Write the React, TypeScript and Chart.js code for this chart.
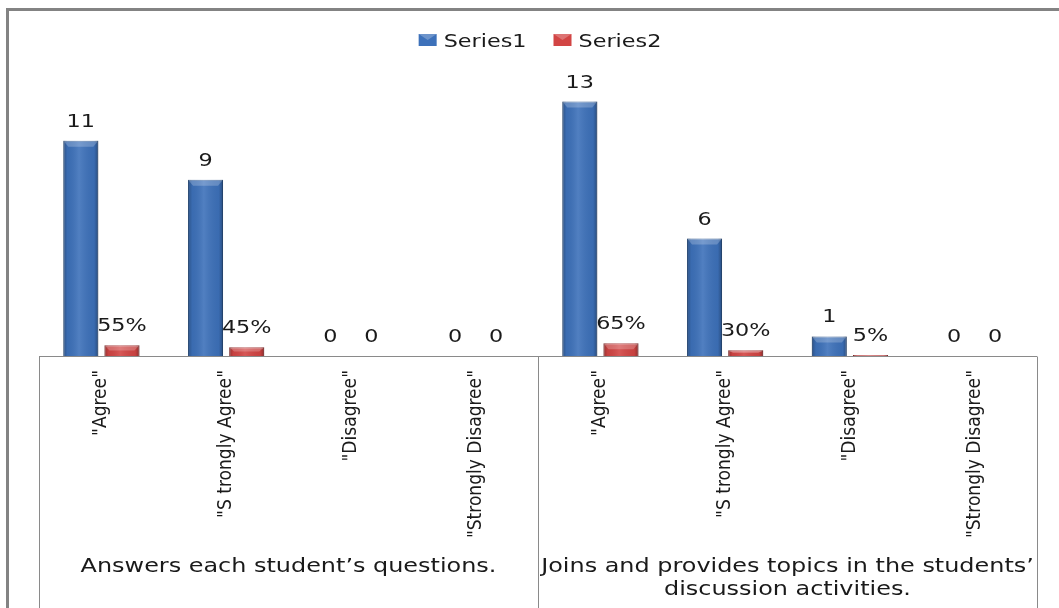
import React, { useEffect, useRef } from "react";
import { Chart, registerables } from "chart.js";

Chart.register(...registerables);

const categories = [
  '"Agree"',
  '"S trongly Agree"',
  '"Disagree"',
  '"Strongly Disagree"',
  '"Agree"',
  '"S trongly Agree"',
  '"Disagree"',
  '"Strongly Disagree"',
];
const groupLabels: string[][] = [
  ["Answers each student’s questions."],
  ["Joins and provides topics in the students’", "discussion activities."],
];
const groupSizes = [4, 4];
const seriesNames = ["Series1", "Series2"];
const series1 = [11, 9, 0, 0, 13, 6, 1, 0];
const series2 = [0.55, 0.45, 0, 0, 0.65, 0.3, 0.05, 0];

const W = 1059;
const H = 608;
const SX = 1.24;
const TEXT = "#1a1a1a";
const BLUE = "#3d71ba";
const RED = "#d24544";
const HFONT = '18px "DejaVu Sans"';
const GFONT = '19.3px "DejaVu Sans"';

function hText(ctx: CanvasRenderingContext2D, text: string, x: number, y: number, align: CanvasTextAlign) {
  ctx.save();
  ctx.translate(x, y);
  ctx.scale(SX, 1);
  ctx.textAlign = align;
  ctx.textBaseline = "alphabetic";
  ctx.fillText(text, 0, 0);
  ctx.restore();
}

function fmt(v: number, ds: number) {
  if (v === 0) return "0";
  return ds === 0 ? String(v) : Math.round(v * 100) + "%";
}

const decorPlugin = {
  id: "decor",
  afterDatasetsDraw(chart: any) {
    const { ctx } = chart;
    ctx.save();
    // bar shading
    chart.data.datasets.forEach((_d: any, i: number) => {
      const meta = chart.getDatasetMeta(i);
      meta.data.forEach((el: any) => {
        const { x, y, base, width } = el.getProps(["x", "y", "base", "width"], true);
        const h = base - y;
        if (h <= 0.5) return;
        const l = x - width / 2;
        const g = ctx.createLinearGradient(l, 0, l + width, 0);
        g.addColorStop(0, "rgba(0,0,0,0.28)");
        g.addColorStop(0.12, "rgba(0,0,0,0.05)");
        g.addColorStop(0.45, "rgba(255,255,255,0.10)");
        g.addColorStop(0.88, "rgba(0,0,0,0.05)");
        g.addColorStop(1, "rgba(0,0,0,0.32)");
        ctx.fillStyle = g;
        ctx.fillRect(l, y, width, h);
        // top bevel
        const bh = Math.min(6, h / 2);
        ctx.fillStyle = "rgba(255,255,255,0.22)";
        ctx.beginPath();
        ctx.moveTo(l, y);
        ctx.lineTo(l + width, y);
        ctx.lineTo(l + width - 5, y + bh);
        ctx.lineTo(l + 5, y + bh);
        ctx.closePath();
        ctx.fill();
      });
    });
    // data labels
    ctx.font = HFONT;
    ctx.fillStyle = TEXT;
    chart.data.datasets.forEach((d: any, i: number) => {
      const meta = chart.getDatasetMeta(i);
      meta.data.forEach((el: any, j: number) => {
        const { x, y } = el.getProps(["x", "y"], true);
        hText(ctx, fmt(d.data[j], i), x, y - 14, "center");
      });
    });
    ctx.restore();
  },
  afterDraw(chart: any) {
    const { ctx, chartArea } = chart;
    const xs = chart.scales.x;
    ctx.save();
    // outer frame
    ctx.strokeStyle = "#838383";
    ctx.lineWidth = 3;
    ctx.beginPath();
    ctx.moveTo(7.5, H);
    ctx.lineTo(7.5, 9.5);
    ctx.lineTo(W, 9.5);
    ctx.stroke();

    // category axis box
    ctx.strokeStyle = "#8a8a8a";
    ctx.lineWidth = 1;
    const top = Math.round(chartArea.bottom) + 0.5;
    const bounds: number[] = [chartArea.left];
    let idx = 0;
    groupSizes.forEach((n, gi) => {
      idx += n;
      if (gi < groupSizes.length - 1) {
        bounds.push((xs.getPixelForValue(idx - 1) + xs.getPixelForValue(idx)) / 2);
      }
    });
    bounds.push(chartArea.right);
    ctx.beginPath();
    ctx.moveTo(chartArea.left, top);
    ctx.lineTo(chartArea.right, top);
    bounds.forEach((b) => {
      const bx = Math.round(b) + 0.5;
      ctx.moveTo(bx, top);
      ctx.lineTo(bx, H);
    });
    ctx.stroke();

    // group labels
    ctx.font = GFONT;
    ctx.fillStyle = TEXT;
    groupLabels.forEach((lines, gi) => {
      const cx = (bounds[gi] + bounds[gi + 1]) / 2;
      lines.forEach((t, li) => {
        hText(ctx, t, cx, 572 + li * 23, "center");
      });
    });

    // legend
    ctx.font = HFONT;
    const cx = (chartArea.left + chartArea.right) / 2;
    const mw = 18, mh = 12, gapM = 7, gapS = 27;
    const widths = seriesNames.map((s) => ctx.measureText(s).width * SX);
    const total = widths.reduce((a, w) => a + mw + gapM + w, 0) + gapS * (seriesNames.length - 1);
    let lx = cx - total / 2 + 2;
    const colors = [BLUE, RED];
    seriesNames.forEach((s, i) => {
      ctx.fillStyle = colors[i];
      ctx.fillRect(lx, 34, mw, mh);
      ctx.fillStyle = "rgba(255,255,255,0.25)";
      ctx.beginPath();
      ctx.moveTo(lx, 34);
      ctx.lineTo(lx + mw, 34);
      ctx.lineTo(lx + mw / 2, 34 + mh / 2);
      ctx.closePath();
      ctx.fill();
      ctx.fillStyle = TEXT;
      hText(ctx, s, lx + mw + gapM, 47, "left");
      lx += mw + gapM + widths[i] + gapS;
    });
    ctx.restore();
  },
};

export default function App() {
  const ref = useRef<HTMLCanvasElement | null>(null);
  useEffect(() => {
    if (!ref.current) return;
    const chart = new Chart(ref.current, {
      type: "bar",
      data: {
        labels: categories,
        datasets: [
          {
            label: seriesNames[0],
            data: series1,
            backgroundColor: BLUE,
            borderColor: "#2c5894",
            borderWidth: 1,
            categoryPercentage: 0.66,
            barPercentage: 0.85,
          },
          {
            label: seriesNames[1],
            data: series2,
            backgroundColor: RED,
            borderColor: "#a83332",
            borderWidth: 1,
            categoryPercentage: 0.66,
            barPercentage: 0.85,
          },
        ],
      },
      options: {
        responsive: false,
        animation: false,
        devicePixelRatio: 1,
        layout: { padding: { top: 82, left: 39, right: W - 1037, bottom: 0 } },
        plugins: {
          legend: { display: false },
          tooltip: { enabled: false },
        },
        scales: {
          x: {
            grid: { display: false, drawTicks: false },
            border: { display: false },
            ticks: {
              autoSkip: false,
              minRotation: 90,
              maxRotation: 90,
              padding: 14,
              color: TEXT,
              font: { family: '"DejaVu Sans Condensed", "DejaVu Sans"', size: 19 },
            },
            afterFit: (scale: any) => {
              scale.height = H - 356;
            },
          },
          y: {
            display: false,
            min: 0,
            max: 14,
          },
        },
      },
      plugins: [decorPlugin],
    } as any);
    return () => chart.destroy();
  }, []);
  return (
    <div style={{ position: "fixed", left: 0, top: 0, width: W, height: H, background: "#fff" }}>
      <canvas ref={ref} width={W} height={H} style={{ display: "block", width: W, height: H }} />
    </div>
  );
}
